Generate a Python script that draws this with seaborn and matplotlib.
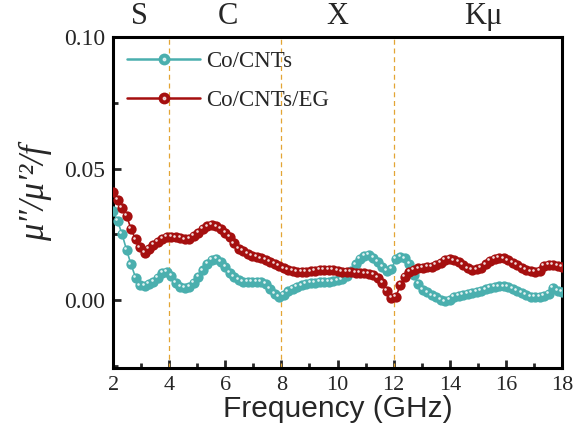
import numpy as np
import matplotlib
matplotlib.use("Agg")
import matplotlib.pyplot as plt
import matplotlib.transforms as mtransforms
from matplotlib.lines import Line2D
from matplotlib.legend_handler import HandlerTuple
from matplotlib.ticker import MultipleLocator
import seaborn as sns

# frequency grid (GHz), 101 points from 2 to 18
freq = np.linspace(2, 18, 101)

co_cnts = [
    0.0340, 0.0300, 0.0250, 0.0190, 0.0135, 0.0085, 0.0055, 0.0053, 0.0060, 0.0068,
    0.0085, 0.0102, 0.0105, 0.0090, 0.0066, 0.0050, 0.0045, 0.0048, 0.0063, 0.0088,
    0.0112, 0.0137, 0.0152, 0.0155, 0.0145, 0.0125, 0.0102, 0.0087, 0.0076, 0.0068,
    0.0067, 0.0068, 0.0069, 0.0067, 0.0060, 0.0042, 0.0022, 0.0010, 0.0018, 0.0032,
    0.0042, 0.0050, 0.0055, 0.0060, 0.0064, 0.0066, 0.0068, 0.0068, 0.0068, 0.0070,
    0.0074, 0.0078, 0.0090, 0.0108, 0.0135, 0.0155, 0.0166, 0.0170, 0.0160, 0.0143,
    0.0125, 0.0110, 0.0118, 0.0155, 0.0163, 0.0158, 0.0138, 0.0095, 0.0060, 0.0039,
    0.0028, 0.0017, 0.0010, 0.0000, -0.0006, 0.0000, 0.0010, 0.0015, 0.0019, 0.0022,
    0.0026, 0.0030, 0.0034, 0.0040, 0.0046, 0.0050, 0.0051, 0.0051, 0.0050, 0.0042,
    0.0033, 0.0026, 0.0018, 0.0012, 0.0011, 0.0012, 0.0015, 0.0022, 0.0045, 0.0035,
    0.0030,
]

co_cnts_eg = [
    0.0410, 0.0380, 0.0350, 0.0320, 0.0270, 0.0230, 0.0200, 0.0180, 0.0195, 0.0210,
    0.0220, 0.0233, 0.0240, 0.0240, 0.0238, 0.0235, 0.0230, 0.0233, 0.0242, 0.0255,
    0.0270, 0.0280, 0.0285, 0.0280, 0.0270, 0.0255, 0.0240, 0.0215, 0.0195, 0.0185,
    0.0175, 0.0168, 0.0163, 0.0158, 0.0152, 0.0145, 0.0137, 0.0128, 0.0120, 0.0114,
    0.0110, 0.0107, 0.0107, 0.0107, 0.0108, 0.0110, 0.0113, 0.0115, 0.0115, 0.0114,
    0.0110, 0.0107, 0.0106, 0.0105, 0.0104, 0.0103, 0.0101, 0.0099, 0.0095, 0.0083,
    0.0065, 0.0035, 0.0008, 0.0012, 0.0057, 0.0088, 0.0105, 0.0115, 0.0120, 0.0122,
    0.0124, 0.0126, 0.0133, 0.0142, 0.0153, 0.0155, 0.0150, 0.0143, 0.0133, 0.0120,
    0.0115, 0.0116, 0.0123, 0.0135, 0.0148, 0.0157, 0.0160, 0.0158, 0.0150, 0.0140,
    0.0132, 0.0123, 0.0115, 0.0108, 0.0106, 0.0110, 0.0128, 0.0133, 0.0132, 0.0128,
    0.0125,
]

band_names = ["S", "C", "X", "K\u03bc"]
band_pos = [2.95, 6.1, 10.0, 15.2]
band_edges = [4, 8, 12]

teal = "#4aafae"
red = "#a50f0f"

sns.set_theme(style="ticks")
plt.rcParams["font.family"] = ["Liberation Serif", "DejaVu Serif"]

fig = plt.figure(figsize=(5.77, 4.43), dpi=100)
ax = fig.add_axes([0.196, 0.169, 0.778, 0.747])

for x in band_edges:
    ax.axvline(x, color="#e3a534", lw=0.9, ls=(0, (4, 3)), zorder=1)

shift = mtransforms.ScaledTranslation(-1.3 / 72, 1.3 / 72, fig.dpi_scale_trans)

series = [("Co/CNTs", co_cnts, teal), ("Co/CNTs/EG", co_cnts_eg, red)]
handles = []
for i, (name, vals, col) in enumerate(series):
    sns.lineplot(x=freq, y=vals, color=col, marker="o", markersize=7.4,
                 markeredgewidth=0, linewidth=1.2, ax=ax, legend=False,
                 estimator=None, zorder=3 + 2 * i)
    ax.scatter(freq, vals, s=3.5, color="white", alpha=0.85, linewidths=0,
               transform=ax.transData + shift, zorder=4 + 2 * i)
    ln = Line2D([], [], color=col, lw=1.8, marker="o", markersize=8.5,
                markeredgewidth=0)
    dot = Line2D([], [], color="white", lw=0, marker="o", markersize=1.8,
                 alpha=0.7)
    handles.append((ln, dot))

ax.legend(handles, [s[0] for s in series], handler_map={tuple: HandlerTuple()},
          loc="upper left", frameon=False, fontsize=16.5, handlelength=3.2,
          handletextpad=0.25, labelspacing=0.8, borderaxespad=0.2,
          bbox_to_anchor=(0.0, 1.0))

ax.set_xlim(2, 18)
ax.set_ylim(-0.026, 0.1)
ax.xaxis.set_major_locator(MultipleLocator(2))
ax.xaxis.set_minor_locator(MultipleLocator(1))
ax.yaxis.set_major_locator(MultipleLocator(0.05))
ax.yaxis.set_minor_locator(MultipleLocator(0.025))
ax.yaxis.set_major_formatter(matplotlib.ticker.FormatStrFormatter("%.2f"))
ax.tick_params(which="both", direction="in", top=False, right=False, width=2)
ax.tick_params(which="major", length=6, labelsize=16, pad=6)
ax.tick_params(axis="y", which="major", labelsize=17)
ax.tick_params(which="minor", length=3.5)
for sp in ax.spines.values():
    sp.set_linewidth(2.2)
    sp.set_color("black")

ax.set_xlabel("Frequency (GHz)", fontsize=21.5, family=["Liberation Sans", "DejaVu Sans"], labelpad=0)
ax.set_ylabel("\u03bc\u2033/\u03bc\u2032\u00b2/f", fontsize=25, style="italic")
ax.yaxis.set_label_coords(-0.136, 0.53)

trans = mtransforms.blended_transform_factory(ax.transData, ax.transAxes)
for name, x in zip(band_names, band_pos):
    ax.text(x, 1.02, name, transform=trans, ha="center", va="bottom", fontsize=22)

fig.savefig("out.png", dpi=100)
